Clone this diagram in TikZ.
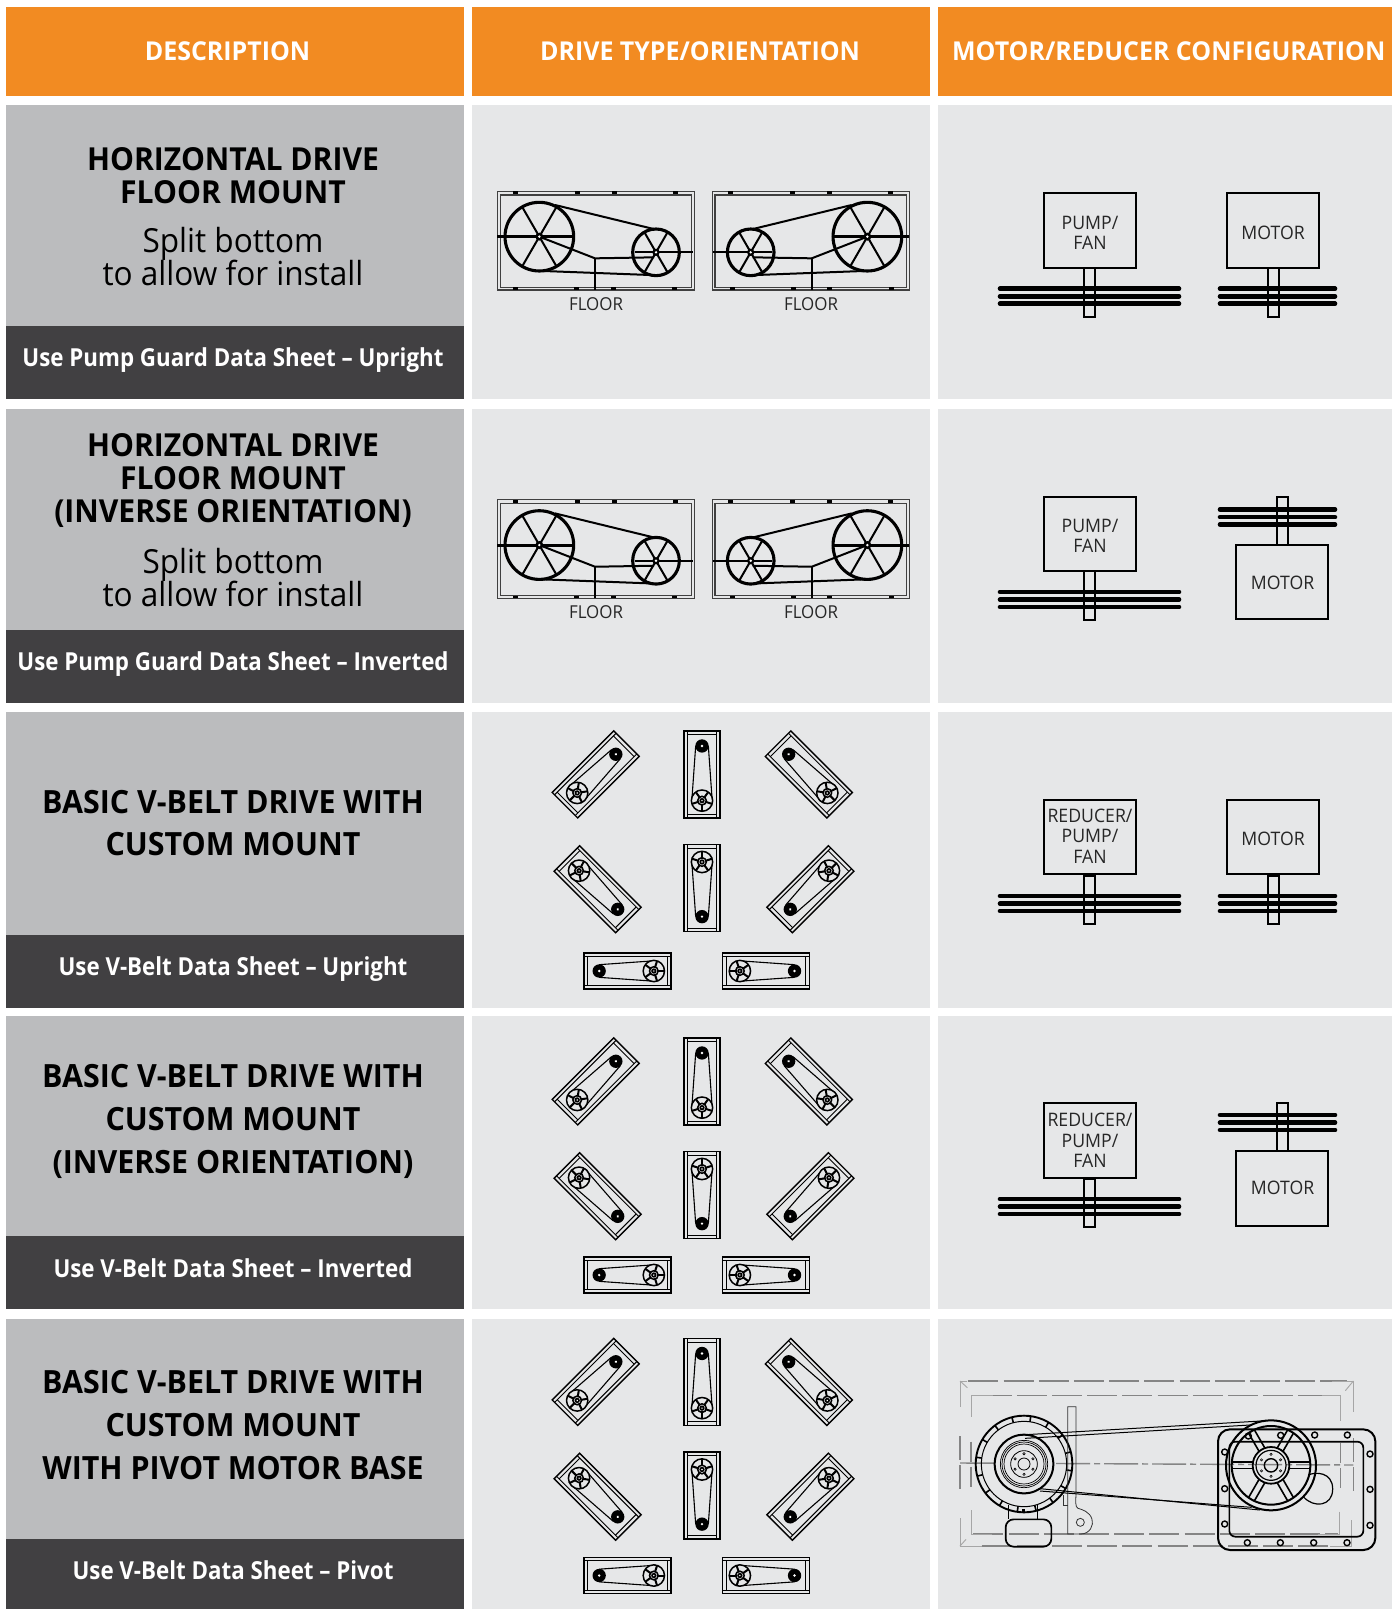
\documentclass[tikz,border=0pt]{standalone}
\usepackage{fontspec}
\setmainfont{Open Sans}
\newfontfamily\reg[FakeStretch=0.95]{Open Sans}
\newfontfamily\semih[FakeStretch=0.96]{Open Sans}
\newfontfamily\semid[FakeStretch=0.9]{Open Sans}
\definecolor{orangeh}{HTML}{F28B22}
\definecolor{grayc}{HTML}{BBBCBE}
\definecolor{darkc}{HTML}{414042}
\definecolor{lightc}{HTML}{E6E7E8}
\tikzset{
  x=0.5pt,y=-0.5pt,
  hdrtext/.style={inner sep=0pt,text=white,align=center,font=\semih\bfseries\fontsize{13pt}{15pt}\selectfont},
  titletext/.style={inner sep=0pt,text=black,align=center,font=\reg\bfseries\fontsize{#1}{#1}\selectfont},
  subtext/.style={inner sep=0pt,text=black,align=center,font=\reg\fontsize{16.6pt}{16.5pt}\selectfont},
  darktext/.style={inner sep=0pt,text=white,align=center,font=\semid\bfseries\fontsize{12.4pt}{14pt}\selectfont},
  floortext/.style={inner sep=0pt,text=black!85,font=\reg\fontsize{8.9pt}{10pt}\selectfont},
  unitbox/.style={draw=black,line width=0.95pt,minimum width=46pt,minimum height=37.3pt,inner sep=0pt},
  unitlabel/.style={inner sep=0pt,align=center,text=black!85,font=\reg\fontsize{9.3pt}{10pt}\selectfont},
  thin1/.style={line width=0.45pt,black},
  mid1/.style={line width=0.8pt,black},
  hline/.style={line width=1pt,black},
  hwheel/.style={line width=1.55pt,black},
  sheave/.style={line width=2.3pt,line cap=round,black},
  dashg/.style={line width=0.55pt,draw=black!48,dash pattern=on 15pt off 2.6pt},
  solg/.style={line width=0.45pt,draw=black!35},
}
% horizontal drive: #1 x shift, #2 y shift, #3 xscale
\newcommand{\hdrive}[3]{%
\begin{scope}[shift={(#1,#2)},xscale=#3,scale=1/3]
  \draw[black!75,line width=0.6pt] (52,64) rectangle (643,360);
  \draw[black!75,line width=0.6pt] (61,75) rectangle (635,352);
  \foreach \a in {100,285,396,580}{\fill[black] (\a,64) rectangle ++(15,9);}
  \foreach \a in {98,283,393,575}{\fill[black] (\a,352) rectangle ++(15,8);}
  \draw[hwheel] (178,200) circle (103);
  \draw[line width=1.5pt] (52,200) -- (280,200);
  \foreach \t in {60,120,-120,-60}{\draw[hline] (178,200) -- ++({\t}:{100});}
  \draw[hline] (178,200) -- (345,265) -- (522,262);
  \draw[hline] (345,265) -- (345,360);
  \draw[hwheel] (528,247) circle (70);
  \draw[hline] (465,247) -- (640,247);
  \foreach \t in {60,120,-120,-60}{\draw[hline] (528,247) -- ++({\t}:{68});}
  \draw[hline] (225,105) -- (525,178);
  \draw[hline] (190,303) -- (510,315);
  \fill[black] (178,200) circle (12);
  \fill[white] (178,200) circle (4);
  \fill[black] (528,247) circle (11);
  \fill[white] (528,247) circle (4);
\end{scope}}
% small drive: centre x, y, rotation
\newcommand{\minidrive}[3]{%
\begin{scope}[shift={(#1,#2)},rotate=#3,scale=1/3]
  \draw[line width=0.7pt,black] (-54,-130) rectangle (54,131);
  \draw[thin1] (-44,-130) -- (-44,131) (44,-130) -- (44,131);
  \draw[thin1] (-44,-119) -- (44,-119) (-44,120) -- (44,120);
  \draw[line width=0.55pt,black] (-19,-85) -- (-31,85) (19,-85) -- (31,85);
  \fill[black] (0,-85) circle (20);
  \fill[white] (0,-85) circle (4);
  \fill[lightc] (0,79) circle (32);
  \draw[line width=0.75pt,black] (0,79) circle (32);
  \foreach \t in {18,90,162,234,306}{\draw[line width=1pt,black] (0,79) ++({\t}:{10}) -- ++({\t}:{21});}
  \draw[line width=0.75pt,black] (0,79) circle (13);
  \fill[black] (0,79) circle (8);
  \fill[white] (0,79) circle (2.5);
\end{scope}}
% set of eight small drives: dy for first rows, dy for last row
\newcommand{\driveset}[2]{%
  \minidrive{595.8}{774.3+#1}{-45}
  \minidrive{702}{774.3+#1}{0}
  \minidrive{808.7}{774.3+#1}{45}
  \minidrive{597.7}{889.3+#1}{-135}
  \minidrive{702}{888.3+#1}{180}
  \minidrive{810.3}{889.3+#1}{135}
  \minidrive{627.5}{971+#2}{90}
  \minidrive{766.2}{971+#2}{-90}
}
\newcommand{\sheaves}[3]{%
  \draw[sheave] (#1,#3) -- (#2,#3) (#1,#3+7.6) -- (#2,#3+7.6) (#1,#3+15) -- (#2,#3+15);
}
\newcommand{\shaft}[4]{\draw[hline] (#1,#3) rectangle (#2,#4);}
\begin{document}
\begin{tikzpicture}
\lineskiplimit=-20pt\relax
\useasboundingbox (0,0) rectangle (1398,1609);
\fill[white] (0,0) rectangle (1398,1609);
% headers
\fill[orangeh] (6,7) rectangle (464,96);
\fill[orangeh] (472,7) rectangle (930,96);
\fill[orangeh] (938,7) rectangle (1392,96);
\node[hdrtext] (h1) at (227.5,51) {DESCRIPTION};
\node[hdrtext] (h2) at (700,51) {DRIVE TYPE/ORIENTATION};
\node[hdrtext] (h3) at (1168.7,51) {MOTOR/REDUCER CONFIGURATION};
% row backgrounds
\foreach \t/\m/\b in {105/326/399, 409/630/702.7, 712/935/1007.5, 1016/1236/1309.3, 1319/1539/1609}{
  \fill[grayc] (6,\t) rectangle (464,\m);
  \fill[darkc] (6,\m) rectangle (464,\b);
  \fill[lightc] (472,\t) rectangle (930,\b);
  \fill[lightc] (938,\t) rectangle (1392,\b);
}
% description texts
\node[titletext=15.85pt] (t1) at (233,175.5) {HORIZONTAL DRIVE\\[0.85pt]FLOOR MOUNT};
\node[subtext] (s1) at (233,257) {Split bottom\\to allow for install};
\node[darktext] (d1) at (233,360) {Use Pump Guard Data Sheet – Upright};
\node[titletext=15.85pt] (t2) at (233,480.5) {HORIZONTAL DRIVE\\[0.85pt]FLOOR MOUNT\\[0.85pt](INVERSE ORIENTATION)};
\node[subtext] (s2) at (233,577.7) {Split bottom\\to allow for install};
\node[darktext] (d2) at (233,664) {Use Pump Guard Data Sheet – Inverted};
\node[titletext=16pt] (t3) at (233,823) {BASIC V-BELT DRIVE WITH\\[5.2pt]CUSTOM MOUNT};
\node[darktext] (d3) at (233,969.5) {Use V-Belt Data Sheet – Upright};
\node[titletext=16pt] (t4) at (233,1121.5) {BASIC V-BELT DRIVE WITH\\[5.6pt]CUSTOM MOUNT\\[5.6pt](INVERSE ORIENTATION)};
\node[darktext] (d4) at (233,1268) {Use V-Belt Data Sheet – Inverted};
\node[titletext=16pt] (t5) at (233,1425) {BASIC V-BELT DRIVE WITH\\[5.6pt]CUSTOM MOUNT\\[5.6pt]WITH PIVOT MOTOR BASE};
\node[darktext] (d5) at (233,1570) {Use V-Belt Data Sheet – Pivot};
% horizontal drives
\hdrive{480}{170}{1}
\hdrive{926.7}{170}{-1}
\node[floortext] (f1) at (596,304) {FLOOR};
\node[floortext] (f2) at (811,304) {FLOOR};
\hdrive{480}{478.4}{1}
\hdrive{926.7}{478.4}{-1}
\node[floortext] (f3) at (596,612) {FLOOR};
\node[floortext] (f4) at (811,612) {FLOOR};
% small drive sets
\driveset{0}{0}
\driveset{307}{304}
\driveset{607.5}{604.5}
% config row 1
\sheaves{1000}{1179}{288.7}
\shaft{1084}{1094.7}{268}{316.7}
\node[unitbox] (u1) at (1090,230.6) {};
\node[unitlabel] (l1) at (1090,233) {PUMP/\\FAN};
\sheaves{1220}{1335}{288.7}
\shaft{1268}{1278.5}{268}{316.7}
\node[unitbox] (u2) at (1273,230.6) {};
\node[unitlabel] (l2) at (1273,233) {MOTOR};
% config row 2
\sheaves{1000}{1179}{592}
\shaft{1084}{1094.7}{571.3}{620}
\node[unitbox] (u3) at (1090,533.9) {};
\node[unitlabel] (l3) at (1090,536) {PUMP/\\FAN};
\sheaves{1220}{1335}{509.5}
\shaft{1277}{1287.5}{497}{545}
\node[unitbox] (u4) at (1282,582) {};
\node[unitlabel] (l4) at (1282.5,582.5) {MOTOR};
% config row 3
\sheaves{1000}{1179}{896}
\shaft{1084}{1094.7}{875.5}{924}
\node[unitbox] (u5) at (1090,837) {};
\node[unitlabel] (l5) at (1090,836) {REDUCER/\\[0.3pt]PUMP/\\[0.3pt]FAN};
\sheaves{1220}{1335}{896}
\shaft{1268}{1278.5}{875.5}{924}
\node[unitbox] (u6) at (1273,837) {};
\node[unitlabel] (l6) at (1273,839) {MOTOR};
% config row 4
\sheaves{1000}{1179}{1199}
\shaft{1084}{1094.7}{1178.7}{1227}
\node[unitbox] (u7) at (1090,1140.5) {};
\node[unitlabel] (l7) at (1090,1140.5) {REDUCER/\\[0.3pt]PUMP/\\[0.3pt]FAN};
\sheaves{1220}{1335}{1115}
\shaft{1277}{1287.5}{1103}{1151}
\node[unitbox] (u8) at (1282,1188.5) {};
\node[unitlabel] (l8) at (1282.5,1188) {MOTOR};
% pivot motor base
\begin{scope}[shift={(950,1360)},scale=1/3]
  \draw[dashg] (55,63) -- (1190,63);
  \draw[dashg] (95,107) -- (1150,107);
  \draw[dashg] (95,558) -- (1140,558);
  \draw[dashg] (70,522) -- (1165,522);
  \draw[solg] (52,63) -- (30,63) -- (30,140);
  \draw[solg] (1147,63) -- (1210,63) -- (1210,155);
  \draw[solg] (30,475) -- (30,558) -- (95,558);
  \draw[solg] (1203,480) -- (1203,558) -- (1140,558);
  \draw[solg] (30,63) -- (52,83) (1210,63) -- (1186,92) (30,558) -- (48,538);
  \draw[solg] (128,107) -- (63,107) -- (63,172);
  \draw[solg] (1115,107) -- (1172,107) -- (1172,182);
  \draw[solg] (63,450) -- (63,522) -- (125,522);
  \draw[solg] (1167,455) -- (1167,522) -- (1105,522);
  \draw[dashg,dash pattern=on 12pt off 2.5pt] (30,228) -- (30,395);
  \draw[dashg,dash pattern=on 10pt off 2.5pt] (63,245) -- (63,385);
  \draw[dashg,dash pattern=on 10pt off 2.5pt] (1172,250) -- (1172,390);
  \draw[dashg,dash pattern=on 12pt off 2.5pt] (1210,235) -- (1210,400);
  \draw[dashg,line width=0.7pt,dash pattern=on 17pt off 2pt on 3pt off 2pt] (30,309) -- (1210,315);
  % motor
  \draw[line width=0.95pt,black] (222,312) circle (145);
  \draw[line width=0.5pt,black] (222,312) circle (128);
  \foreach \t in {0,22.5,...,337.5}{\draw[mid1] (222,312) ++({\t+8}:{128}) -- ++({\t+8}:{17});}
  \draw[line width=1pt,black,fill=lightc] (222,312) circle (88);
  \draw[line width=0.35pt,black] (222,312) circle (71);
  \draw[line width=0.35pt,black] (222,312) circle (66);
  \draw[line width=0.35pt,black] (222,312) circle (60);
  \draw[line width=0.4pt,black] (222,312) circle (40);
  \draw[line width=0.4pt,black] (222,312) circle (18);
  \foreach \t in {30,90,...,330}{\draw[line width=0.3pt,black] (222,312) ++({\t}:{31}) circle (3.5);}
  \draw[line width=0.85pt,black] (175,435) -- (175,478) (262,435) -- (262,478);
  \draw[line width=1.2pt,black] (220,447) -- (220,458);
  \draw[line width=0.85pt,black,rounded corners=4pt] (167,478) rectangle (304,560);
  % bracket
  \draw[line width=0.4pt,black!80] (378,405) -- (378,140) -- (353,140) -- (353,522) -- (392,522) .. controls (420,522) and (432,495) .. (426,478) .. controls (420,455) and (395,448) .. (384,445) .. controls (375,442) and (377,420) .. (378,405);
  \draw[line width=0.4pt,black!80] (340,405) -- (340,435) -- (353,435);
  \draw[line width=0.4pt,black!80] (391,487) circle (12);
  % gearbox
  \draw[line width=1pt,black,rounded corners=6pt] (804,208) rectangle (1276,570);
  \draw[line width=0.85pt,black,rounded corners=3pt] (838,245) rectangle (1240,530);
  \foreach \p/\q in {895/228,992/226,1094/225,1192/225,1260/282,1260/388,1260/496,892/548,991/548,1091/548,1191/548,824/276,824/386,824/492}{
    \draw[line width=0.7pt,black] (\p,\q) circle (9);}
  \draw[line width=0.6pt,black] (1075,345) .. controls (1095,335) and (1148,335) .. (1148,387) .. controls (1148,440) and (1090,445) .. (1060,410);
  % wheel
  \draw[line width=1pt,black] (963,316) circle (135);
  \draw[line width=1pt,black] (963,316) circle (118);
  \draw[line width=0.9pt,black] (963,316) circle (55);
  \draw[line width=0.6pt,black] (963,316) circle (45);
  \draw[line width=0.7pt,black] (963,316) circle (20);
  \foreach \t in {30,90,...,330}{\draw[line width=0.3pt,black] (963,316) ++({\t}:{33}) circle (3.5);}
  \foreach \t in {0,60,...,300}{
    \begin{scope}[shift={(963,316)},rotate=\t]
      \draw[mid1] (55,-10) -- (116,-10) (55,10) -- (116,10);
    \end{scope}}
  % belts
  \draw[line width=0.5pt,black] (210,225) -- (950,182);
  \draw[line width=0.5pt,black] (225,235) -- (900,195);
  \draw[line width=0.5pt,black] (270,386) -- (930,450);
  \draw[line width=0.5pt,black] (270,393) -- (905,442);
\end{scope}
\end{tikzpicture}
\end{document}
